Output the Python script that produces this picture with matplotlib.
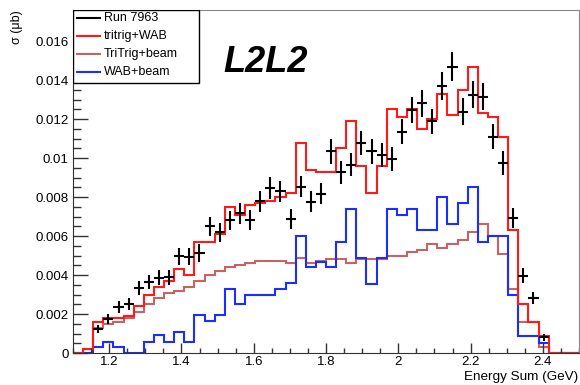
import numpy as np
import matplotlib.pyplot as plt
from matplotlib.ticker import MultipleLocator, FixedLocator, FixedFormatter

plt.rcParams['font.family'] = ['Liberation Sans', 'DejaVu Sans']

# histogram binning: 50 bins from 1.1 to 2.5 GeV
x_min, x_max, n_bins = 1.1, 2.5, 50
edges = np.linspace(x_min, x_max, n_bins + 1)
centers = 0.5 * (edges[:-1] + edges[1:])

# tritrig+WAB (red)
tritrig_wab = [
    0, 0.0002, 0.00157, 0.0018, 0.0018, 0.0019, 0.0024, 0.0030, 0.0034, 0.0037,
    0.0043, 0.0040, 0.0057, 0.0057, 0.0061, 0.0075, 0.0071, 0.0076, 0.0077, 0.0078,
    0.0080, 0.0082, 0.0108, 0.0094, 0.0093, 0.0093, 0.0105, 0.0119, 0.0096, 0.0082,
    0.0096, 0.0125, 0.0121, 0.0125, 0.0115, 0.0120, 0.0133, 0.0122, 0.0135, 0.0147,
    0.0123, 0.0121, 0.0111, 0.0063, 0.0025, 0.0016, 0.00085, 0, 0, 0,
]

# TriTrig+beam (muted red)
tritrig_beam = [
    0, 0.0002, 0.0013, 0.0015, 0.0016, 0.0018, 0.0021, 0.0025, 0.0028, 0.0031,
    0.0032, 0.0034, 0.0037, 0.0040, 0.0042, 0.0044, 0.0045, 0.0046, 0.0047, 0.0047,
    0.0047, 0.0046, 0.0049, 0.0046, 0.0047, 0.0048, 0.0048, 0.0046, 0.0048, 0.0048,
    0.0048, 0.0050, 0.0050, 0.0052, 0.0053, 0.0056, 0.0054, 0.0056, 0.0058, 0.0062,
    0.0066, 0.0060, 0.0051, 0.0033, 0.0016, 0.0016, 0.0003, 0, 0, 0,
]

# WAB+beam (blue)
wab_beam = [
    0, 0, 0.0003, 0.00055, 0.0003, 0, 0, 0.00055, 0.0009, 0.00055,
    0.0011, 0.00055, 0.00195, 0.00165, 0.00195, 0.0033, 0.0025, 0.0030, 0.0030, 0.0030,
    0.0033, 0.0036, 0.0060, 0.0044, 0.00465, 0.0044, 0.0057, 0.0074, 0.0049, 0.00355,
    0.0049, 0.0074, 0.0071, 0.0074, 0.0063, 0.0063, 0.0080, 0.0066, 0.0077, 0.0085,
    0.0057, 0.0060, 0.0060, 0.0030, 0.00085, 0.00085, 0.0005, 0, 0, 0,
]

# Run 7963 data (bins 2..46), values and errors
data_bins = list(range(2, 47))
data_vals = [
    0.00123, 0.00174, 0.00235, 0.00252, 0.00335, 0.00364, 0.00387, 0.00388,
    0.00497, 0.00494, 0.00513, 0.0065, 0.0062, 0.0068, 0.00716, 0.00682,
    0.00778, 0.00846, 0.00829, 0.00687, 0.00854, 0.00777, 0.00817, 0.01034,
    0.00928, 0.00966, 0.01077, 0.01034, 0.01017, 0.00995, 0.01136, 0.01248,
    0.01282, 0.01188, 0.0137, 0.0147, 0.01239, 0.01325, 0.01316, 0.0111,
    0.00974, 0.00692, 0.00396, 0.00282, 0.00082,
]
data_errs = [
    0.00022, 0.00025, 0.0003, 0.0003, 0.00035, 0.00037, 0.00038, 0.00038,
    0.00043, 0.00043, 0.00044, 0.00049, 0.00048, 0.0005, 0.00052, 0.0005,
    0.00054, 0.00056, 0.00056, 0.0005, 0.00056, 0.00054, 0.00055, 0.00062,
    0.00059, 0.0006, 0.00063, 0.00062, 0.00062, 0.00061, 0.00065, 0.00068,
    0.00069, 0.00066, 0.00071, 0.00074, 0.00068, 0.0007, 0.0007, 0.00064,
    0.0006, 0.00051, 0.00038, 0.00032, 0.00018,
]

y_ticks = [0, 0.002, 0.004, 0.006, 0.008, 0.01, 0.012, 0.014, 0.016]
y_tick_labels = ['0', '0.002', '0.004', '0.006', '0.008', '0.01', '0.012', '0.014', '0.016']
x_ticks = [1.2, 1.4, 1.6, 1.8, 2.0, 2.2, 2.4]
x_tick_labels = ['1.2', '1.4', '1.6', '1.8', '2', '2.2', '2.4']

c_red = '#ff1a1a'
c_brown = '#c96363'
c_blue = '#1a2eff'

fig = plt.figure(figsize=(5.8, 3.85), dpi=100)
ax = fig.add_axes([73 / 580, 1 - 353 / 385, 506 / 580, 343 / 385])

ax.stairs(tritrig_beam, edges, color=c_brown, lw=1.5)
ax.stairs(wab_beam, edges, color=c_blue, lw=1.5)
ax.stairs(tritrig_wab, edges, color=c_red, lw=1.5)

width = edges[1] - edges[0]
ax.errorbar(centers[data_bins], data_vals, xerr=width / 2, yerr=data_errs,
            fmt='none', ecolor='black', elinewidth=1.5, capsize=0, zorder=5)

ax.set_xlim(x_min, x_max)
ax.set_ylim(0, 0.0176)

ax.yaxis.set_major_locator(FixedLocator(y_ticks))
ax.yaxis.set_major_formatter(FixedFormatter(y_tick_labels))
ax.yaxis.set_minor_locator(MultipleLocator(0.0005))
ax.xaxis.set_major_locator(FixedLocator(x_ticks))
ax.xaxis.set_major_formatter(FixedFormatter(x_tick_labels))
ax.xaxis.set_minor_locator(MultipleLocator(0.05))

ax.tick_params(axis='y', which='major', direction='in', length=10.8, width=1, pad=3, labelsize=9.5, color='#333333')
ax.tick_params(axis='y', which='minor', direction='in', length=5.4, width=1, color='#333333')
ax.tick_params(axis='x', which='major', direction='in', length=7.2, width=1, pad=2.5, labelsize=9.5, color='#333333')
ax.tick_params(axis='x', which='minor', direction='in', length=3.6, width=1, color='#333333')

for side in ['left', 'bottom']:
    ax.spines[side].set_color('#333333')
for side in ['top', 'right']:
    ax.spines[side].set_color('#888888')

fig.text(17 / 580, 1 - 10 / 385, 'σ (μb)', rotation=90, ha='center', va='top', fontsize=9)
fig.text(578 / 580, 1 - 377 / 385, 'Energy Sum (GeV)', ha='right', va='center', fontsize=9.7)

ax.text((223 - 73) / 506, (353 - 71.7) / 343, 'L2L2', transform=ax.transAxes,
        fontsize=26, fontweight='bold', fontstyle='italic', va='baseline', ha='left')

# legend box drawn in axes coordinates, ROOT style
def ax_x(px):
    return (px - 73) / 506

def ax_y(py):
    return (353 - py) / 343

ax.add_patch(plt.Rectangle((ax_x(73), ax_y(83)), ax_x(199) - ax_x(73), ax_y(10) - ax_y(83),
                           transform=ax.transAxes, facecolor='white', edgecolor='black',
                           lw=1, zorder=10))
legend_items = [('Run 7963', 'black'), ('tritrig+WAB', c_red),
                ('TriTrig+beam', c_brown), ('WAB+beam', c_blue)]
legend_rows = [18.3, 36, 54, 71.7]
for (label, col), py in zip(legend_items, legend_rows):
    ax.plot([ax_x(77), ax_x(100)], [ax_y(py), ax_y(py)], color=col, lw=1.5,
            transform=ax.transAxes, zorder=11, clip_on=False)
    ax.text(ax_x(104), ax_y(py), label, transform=ax.transAxes, fontsize=9,
            va='center', ha='left', zorder=11)

fig.savefig('out.png', dpi=100)
